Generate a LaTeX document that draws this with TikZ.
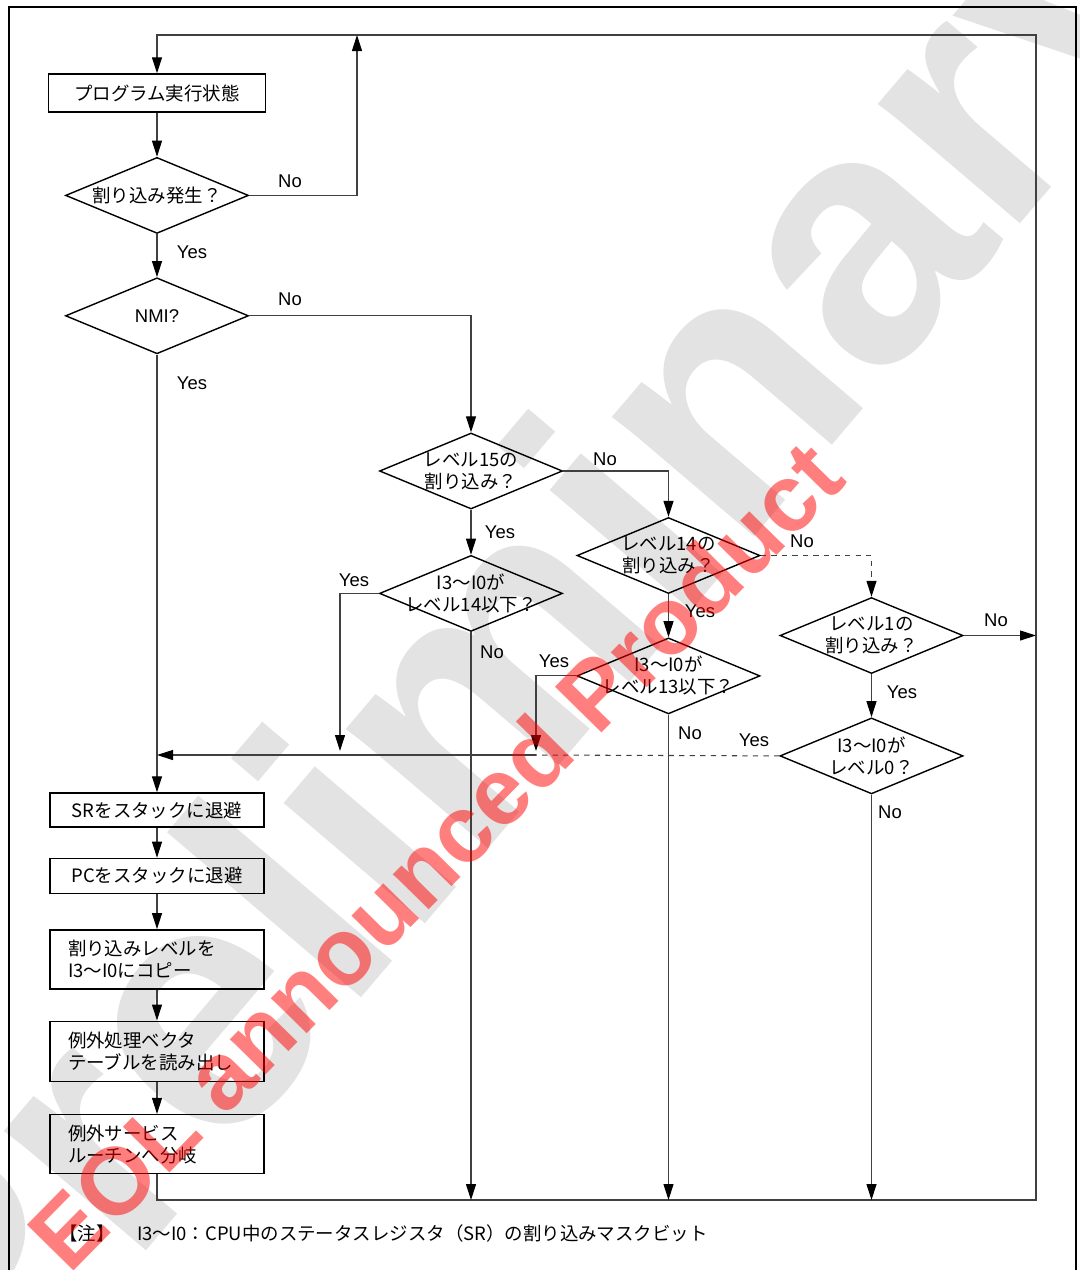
\documentclass[tikz,border=0pt]{standalone}
\usepackage{fontspec}
\setmainfont{Liberation Sans}
\newfontfamily\jpfont{Noto Sans CJK JP}
\usetikzlibrary{arrows.meta,positioning,shapes.geometric}
\tikzset{
  >={Triangle[length=3.2mm, width=2mm, color=black]},
  flow/.style={draw=black!75, line width=0.6pt},
  proc/.style={draw, line width=0.8pt, minimum width=4.28cm, minimum height=0.68cm, inner sep=0pt, font=\jpfont\fontsize{10.5}{12.5}\selectfont},
  proc2/.style={proc, minimum height=1.18cm, text width=3.56cm, align=left},
  dec/.style={diamond, draw, line width=0.8pt, minimum width=3.66cm, minimum height=1.52cm, inner sep=0pt},
  dtxt/.style={inner sep=0pt, align=center, font=\jpfont\fontsize{10.5}{12.5}\selectfont},
  yn/.style={inner sep=0pt, font=\fontsize{10.5}{12.5}\selectfont},
}
\begin{document}
\begin{tikzpicture}
  \useasboundingbox (0,0) rectangle (21.6,-25.4);
  % background stamp
  \node[rotate=49.6, text=black!11, font=\bfseries\fontsize{200}{200}\selectfont] (wm) at (10.6,-13.2) {Preliminary};
  \draw[line width=0.8pt] (0.18,-25.6) |- (21.52,-0.14) -- (21.52,-25.6);

  % left column
  \node[proc, minimum width=4.34cm, minimum height=0.76cm] (prog) at (3.14,-1.86) {プログラム実行状態};
  \node[dec, below=8.8mm of prog, label={[dtxt]center:割り込み発生？}] (q1) {};
  \node[dec, below=8.6mm of q1, label={[yn]center:NMI?}] (nmi) {};
  \node[proc] (sr) at (3.14,-16.2) {SRをスタックに退避};
  \node[proc, below=6mm of sr, minimum height=0.7cm] (pc) {PCをスタックに退避};
  \node[proc2, below=7mm of pc] (lvl) {割り込みレベルを\\I3～I0にコピー};
  \node[proc2, below=6.2mm of lvl, minimum height=1.2cm] (vec) {例外処理ベクタ\\テーブルを読み出し};
  \node[proc2, below=6.4mm of vec] (isr) {例外サービス\\ルーチンへ分岐};

  % level checks
  \node[dec, label={[dtxt]center:{レベル15の\\割り込み？}}] (l15) at (9.42,-9.42) {};
  \node[dec, below=9mm of l15, label={[dtxt]center:{I3～I0が\\レベル14以下？}}] (m14) {};
  \node[dec, label={[dtxt]center:{レベル14の\\割り込み？}}] (l14) at (13.37,-11.11) {};
  \node[dec, below=8.6mm of l14, label={[dtxt]center:{I3～I0が\\レベル13以下？}}] (m13) {};
  \node[dec, label={[dtxt]center:{レベル1の\\割り込み？}}] (l1) at (17.43,-12.71) {};
  \node[dec, below=8.6mm of l1, label={[dtxt]center:{I3～I0が\\レベル0？}}] (m0) {};

  \coordinate (rt) at (20.72,-0.70);
  \coordinate (rb) at (20.72,-24.00);
  \coordinate (up) at (7.14,-0.70);
  \coordinate (y14) at (6.80,-15.02);
  \coordinate (y13) at (10.72,-15.02);
  \coordinate (jn) at (10.72,-15.10);

  % connectors
  \draw[flow,->] (isr.south) |- (rb) -- (rt) -| (prog.north);
  \draw[flow,->] (prog) -- (q1);
  \draw[flow,->] (q1.east) -| (up);
  \draw[flow,->] (q1) -- (nmi);
  \draw[flow,->] (nmi.east) -| (l15.north);
  \draw[flow,->] (nmi.south) -- (sr.north);
  \draw[flow,->] (l15.east) -| (l14.north);
  \draw[flow,->] (l15) -- (m14);
  \draw[flow,->] (m14.west) -| (y14);
  \draw[flow,->] (m14.south) -- (m14.south |- rb);
  \draw[flow,dashed,->] (l14.east) -| (l1.north);
  \draw[flow,->] (l14) -- (m13);
  \draw[flow,->] (m13.west) -| (y13);
  \draw[flow,->] (m13.south) -- (m13.south |- rb);
  \draw[flow,->] (l1.east) -- (rb |- l1.east);
  \draw[flow,->] (l1) -- (m0);
  \draw[flow,dashed] (m0.west) -- (jn);
  \draw[flow,->] (jn) -- (nmi.south |- jn);
  \draw[flow,->] (m0.south) -- (m0.south |- rb);
  \draw[flow,->] (sr) -- (pc);
  \draw[flow,->] (pc) -- (lvl);
  \draw[flow,->] (lvl) -- (vec);
  \draw[flow,->] (vec) -- (isr);

  % branch labels
  \node[yn] (n1) at (5.80,-3.62) {No};
  \node[yn] (s1) at (3.84,-5.04) {Yes};
  \node[yn] (n2) at (5.80,-5.98) {No};
  \node[yn] (s2) at (3.84,-7.66) {Yes};
  \node[yn] (n3) at (12.10,-9.18) {No};
  \node[yn] (s3) at (10.00,-10.64) {Yes};
  \node[yn] (s4) at (7.08,-11.60) {Yes};
  \node[yn] (n4) at (9.84,-13.04) {No};
  \node[yn] (n5) at (16.04,-10.82) {No};
  \node[yn] (s5) at (14.00,-12.22) {Yes};
  \node[yn] (s6) at (11.08,-13.22) {Yes};
  \node[yn] (n6) at (13.80,-14.66) {No};
  \node[yn] (n7) at (19.92,-12.40) {No};
  \node[yn] (s7) at (18.04,-13.84) {Yes};
  \node[yn] (s8) at (15.08,-14.80) {Yes};
  \node[yn] (n8) at (17.80,-16.24) {No};

  \node[anchor=west, inner sep=0pt, font=\jpfont\fontsize{10.5}{12.5}\selectfont] (note) at (1.18,-24.66) {【注】\hspace{4.5mm}I3～I0：CPU中のステータスレジスタ（SR）の割り込みマスクビット};

  % front stamp
  \node[rotate=45.5, text=red, opacity=0.5, font=\bfseries\fontsize{54}{54}\selectfont] (eol) at (8.7,-17.1) {EOL announced Product};
\end{tikzpicture}
\end{document}
